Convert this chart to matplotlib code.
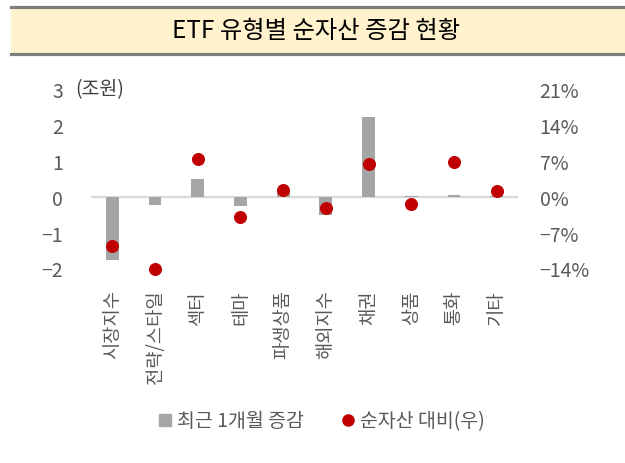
import matplotlib
matplotlib.use("Agg")
import matplotlib.pyplot as plt
from matplotlib.lines import Line2D
from matplotlib.patches import Rectangle
import numpy as np

plt.rcParams['font.family'] = ['Noto Sans CJK KR', 'DejaVu Sans']
plt.rcParams['axes.unicode_minus'] = True

title = "ETF 유형별 순자산 증감 현황"
categories = ["시장지수", "전략/스타일", "섹터", "테마", "파생상품", "해외지수", "채권", "상품", "통화", "기타"]
monthly_change = [-1.75, -0.22, 0.48, -0.26, 0.13, -0.50, 2.23, 0.01, 0.05, 0.02]  # 조원
pct_of_nav = [-9.6, -14.0, 7.3, -4.0, 1.4, -2.3, 6.3, -1.4, 6.7, 1.1]  # %
left_ticks = [-2, -1, 0, 1, 2, 3]
right_ticks = [-14, -7, 0, 7, 14, 21]
bar_label = "최근 1개월 증감"
dot_label = "순자산 대비(우)"
unit_label = "(조원)"

W, H = 625, 464
fig = plt.figure(figsize=(W / 100, H / 100), dpi=100)

# Title band
fig.patches.append(Rectangle((11 / W, 1 - 55 / H), 1 - 11 / W, 47 / H, transform=fig.transFigure,
                             facecolor="#FFF2CC", edgecolor="none", zorder=0))
for yy in (8, 55):
    fig.add_artist(Line2D([11 / W, 1], [1 - yy / H, 1 - yy / H], transform=fig.transFigure,
                          color="#7F7F7F", linewidth=2.3))
fig.text(316 / W, 1 - 31 / H, title, ha="center", va="center", fontsize=17.5, color="black")

ax = fig.add_axes([91 / W, 1 - 269.5 / H, (518 - 91) / W, (269.5 - 90) / H])
x = np.arange(len(categories))
ax.bar(x, monthly_change, width=0.3, color="#A5A5A5", zorder=2)
ax.set_xlim(-0.5, len(categories) - 0.5)
ax.set_ylim(left_ticks[0], left_ticks[-1])
ax.axhline(0, color="#D9D9D9", linewidth=1.6, zorder=1)
ax.set_yticks(left_ticks)
ax.set_yticklabels([str(t).replace("-", "\u2212") for t in left_ticks])
ax.set_xticks(x)
ax.set_xticklabels(categories, rotation=90, va="top", ha="center")
ax.tick_params(axis="y", length=0, pad=20, labelsize=14, labelcolor="#595959")
ax.tick_params(axis="x", length=0, pad=15, labelsize=13.5, labelcolor="#595959")
for s in ax.spines.values():
    s.set_visible(False)

ax2 = ax.twinx()
ax2.scatter(x, pct_of_nav, s=70, color="#C00000", zorder=3, clip_on=False)
ax2.set_ylim(right_ticks[0], right_ticks[-1])
ax2.set_yticks(right_ticks)
ax2.set_yticklabels([(str(t) + "%").replace("-", "\u2212") for t in right_ticks])
ax2.tick_params(axis="y", length=0, pad=15.5, labelsize=14, labelcolor="#595959")
for s in ax2.spines.values():
    s.set_visible(False)

fig.text(75 / W, 1 - 90 / H, unit_label, ha="left", va="center", fontsize=14, color="#404040")

handles = [
    Line2D([], [], marker="s", linestyle="none", color="#A5A5A5", markersize=8),
    Line2D([], [], marker="o", linestyle="none", color="#C00000", markersize=8),
]
fig.legend(handles, [bar_label, dot_label], loc="center", bbox_to_anchor=(320 / W, 1 - 422 / H),
           ncol=2, frameon=False, fontsize=14, handletextpad=0.1, columnspacing=1.8,
           handlelength=1.0, labelcolor="#595959")

fig.savefig("out.png", dpi=100)
